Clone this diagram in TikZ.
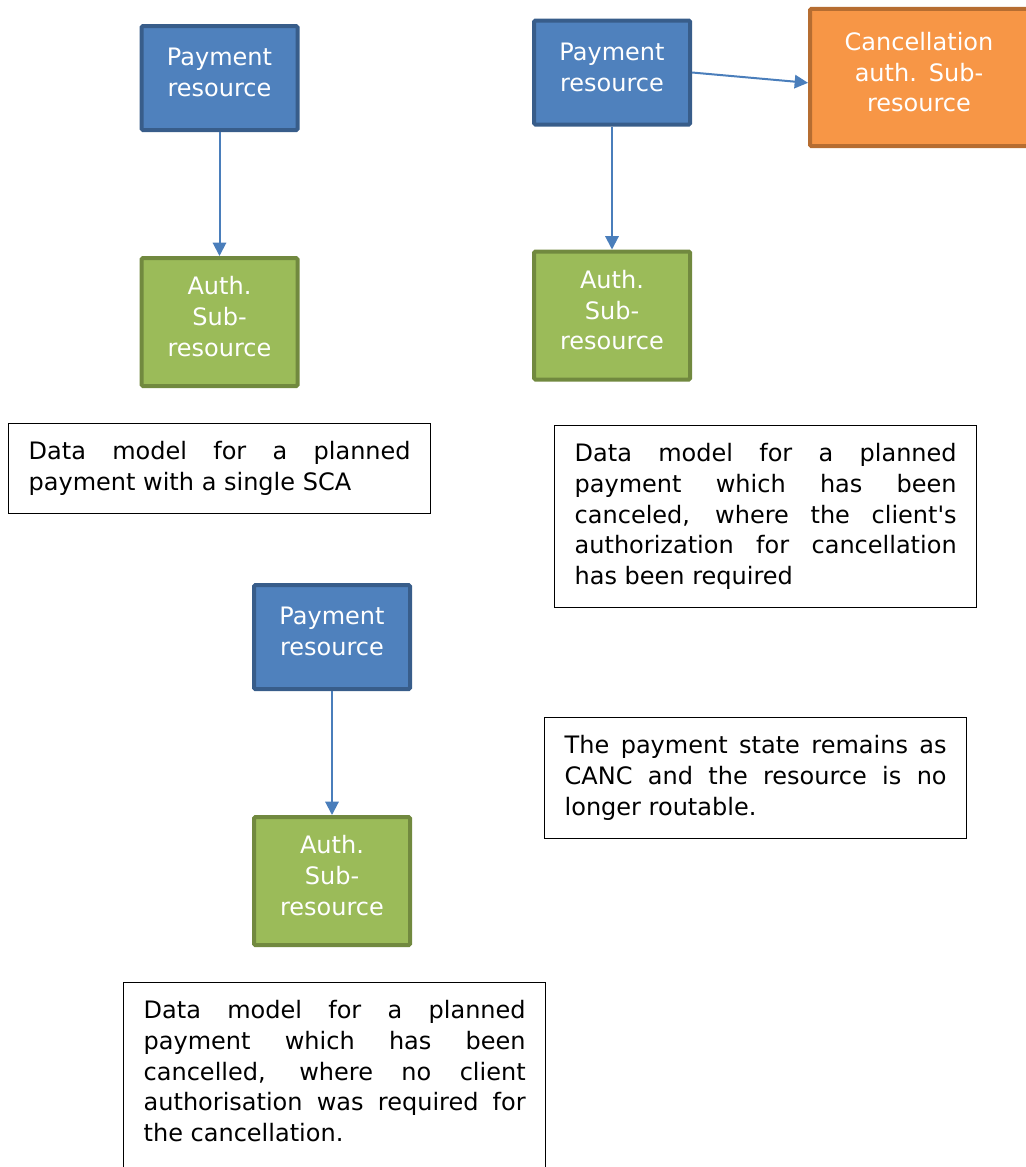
\documentclass[tikz,border=0pt]{standalone}
\usepackage{fontspec}
\setmainfont{DejaVu Sans}
\usetikzlibrary{arrows.meta}
\definecolor{payfill}{HTML}{4F81BD}
\definecolor{payline}{HTML}{385D8A}
\definecolor{authfill}{HTML}{9BBB59}
\definecolor{authline}{HTML}{71893F}
\definecolor{cancfill}{HTML}{F79646}
\definecolor{cancline}{HTML}{B66D31}
\definecolor{linkline}{HTML}{4A7EBB}
\begin{document}
\begin{tikzpicture}[x=0.75pt,y=-0.75pt]
\tikzstyle{every node}+=[font=\fontsize{18}{23}\selectfont]
\tikzstyle{res}=[draw, line width=3pt, text=white, text width=110pt, align=center, rounded corners=1pt, minimum width=117pt, execute at end node={\endgraf\vspace*{8pt}}]
\tikzstyle{payres}=[res, fill=payfill, draw=payline, minimum height=78pt]
\tikzstyle{authres}=[res, fill=authfill, draw=authline, minimum height=96pt]
\tikzstyle{cancres}=[res, fill=cancfill, draw=cancline, text width=150pt, minimum width=163.5pt, minimum height=103pt]
\tikzstyle{note}=[draw, line width=1pt, anchor=north west, text width=286.5pt, align=justify, inner xsep=15pt, inner ysep=13.5pt]
\tikzstyle{link}=[linkline, line width=1.5pt, -{Triangle[length=10pt,width=10pt]}]
\useasboundingbox (0,0) rectangle (1025,1167);
\node[payres] (pay1) at (219.5,78) {Payment\\resource};
\node[authres] (auth1) at (219.5,322) {Auth.\\Sub-\\resource};
\node[payres] (pay2) at (612,72.5) {Payment\\resource};
\node[cancres] (canc) at (919,77.5) {Cancellation\\auth. Sub-\\resource};
\node[authres] (auth2) at (612,315.5) {Auth.\\Sub-\\resource};
\node[payres] (pay3) at (332,637) {Payment\\resource};
\node[authres] (auth3) at (332,881) {Auth.\\Sub-\\resource};
\draw[link] (pay1) -- (auth1);
\draw[link] (pay2) -- (auth2);
\draw[link] (pay2.east) -- ([yshift=-4pt]canc.west);
\draw[link] (pay3) -- (auth3);
\node[note] (note1) at (8,423) {Data model for a planned\linebreak payment with a single SCA};
\node[note] (note2) at (554,425) {Data model for a planned\linebreak payment which has been\linebreak canceled, where the client\textquotesingle s\linebreak authorization for cancellation\linebreak has been required};
\node[note] (note3) at (544,717) {The payment state remains as\linebreak CANC and the resource is no\linebreak longer routable.};
\node[note] (note4) at (123,982) {Data model for a planned\linebreak payment which has been\linebreak cancelled, where no client\linebreak authorisation was required for\linebreak the cancellation.\par\rule{0pt}{60pt}};
\end{tikzpicture}
\end{document}
